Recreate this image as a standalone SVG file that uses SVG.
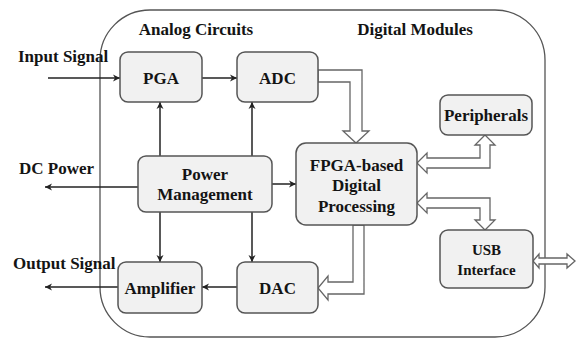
<svg xmlns="http://www.w3.org/2000/svg" width="576" height="338" viewBox="0 0 576 338">
<defs>
<marker id="ah" markerWidth="8" markerHeight="8" refX="7" refY="4" orient="auto" markerUnits="userSpaceOnUse">
<path d="M0,0.5 L7,4 L0,7.5 L2,4 Z" fill="#222"/>
</marker>
<style>
.box{fill:#f1f1f1;stroke:#555;stroke-width:1.5}
.t{font-family:"Liberation Serif","Times New Roman",serif;font-weight:bold;font-size:17px;fill:#141414;text-anchor:middle}
.ts{font-size:15px}
.lbl{font-family:"Liberation Serif","Times New Roman",serif;font-weight:bold;font-size:17px;fill:#141414}
.c{stroke:#222;stroke-width:1.5;fill:none;marker-end:url(#ah)}
.ba{fill:#fff;stroke:#666;stroke-width:1.3;stroke-linejoin:miter}
</style>
</defs>
<rect width="576" height="338" fill="#fff"/>
<g id="container">
<rect x="100" y="10" width="445" height="327" rx="50" ry="50" fill="none" stroke="#555" stroke-width="1.3"/>
<text class="lbl" x="196" y="35" text-anchor="middle">Analog Circuits</text>
<text class="lbl" x="415" y="35" text-anchor="middle">Digital Modules</text>
</g>
<g id="labels">
<text class="lbl" x="18" y="62">Input Signal</text>
<text class="lbl" x="19" y="174">DC Power</text>
<text class="lbl" x="13" y="269">Output Signal</text>
</g>
<g id="connectors">
<line class="c" x1="48" y1="78" x2="120" y2="78"/>
<line class="c" x1="202" y1="78" x2="237" y2="78"/>
<line class="c" x1="160" y1="156" x2="160" y2="102"/>
<line class="c" x1="252" y1="156" x2="252" y2="102"/>
<line class="c" x1="138" y1="187" x2="45" y2="187"/>
<line class="c" x1="272" y1="184" x2="296" y2="184"/>
<line class="c" x1="160" y1="212" x2="160" y2="262"/>
<line class="c" x1="252" y1="212" x2="252" y2="262"/>
<line class="c" x1="237" y1="287" x2="202" y2="287"/>
<line class="c" x1="118" y1="287" x2="45" y2="287"/>
<polygon class="ba" points="318,70 362,70 362,131 369,131 356,143 343,131 350,131 350,82 318,82"/>
<polygon class="ba" points="417,163 427,153 427,158 480,158 480,145 475,145 485,135 495,145 490,145 490,168 427,168 427,173"/>
<polygon class="ba" points="417,203 427,193 427,198 490,198 490,220 495,220 485,230 475,220 480,220 480,208 427,208 427,213"/>
<polygon class="ba" points="353,225 364,225 364,294 328,294 328,300 318,288 328,276 328,282 353,282"/>
<polygon class="ba" points="533,261 539,254 539,258 567,258 567,254 575,261 567,268 567,264 539,264 539,268"/>
</g>
<g id="pga">
<rect class="box" x="120" y="52" width="82" height="50" rx="8"/>
<text class="t" x="161" y="84">PGA</text>
</g>
<g id="adc">
<rect class="box" x="237" y="52" width="81" height="50" rx="8"/>
<text class="t" x="277.5" y="84">ADC</text>
</g>
<g id="peripherals">
<rect class="box" x="440" y="95" width="92" height="40" rx="8"/>
<text class="t" x="486" y="121">Peripherals</text>
</g>
<g id="power">
<rect class="box" x="138" y="156" width="134" height="56" rx="8"/>
<text class="t" x="205" y="180">Power</text>
<text class="t" x="205" y="200">Management</text>
</g>
<g id="fpga">
<rect class="box" x="296" y="143" width="121" height="82" rx="10"/>
<text class="t" x="356.5" y="171">FPGA-based</text>
<text class="t" x="356.5" y="191">Digital</text>
<text class="t" x="356.5" y="212">Processing</text>
</g>
<g id="usb">
<rect class="box" x="440" y="230" width="93" height="58" rx="8"/>
<text class="t ts" x="486.5" y="255">USB</text>
<text class="t ts" x="486.5" y="275">Interface</text>
</g>
<g id="amplifier">
<rect class="box" x="118" y="262" width="84" height="51" rx="8"/>
<text class="t" x="160" y="294">Amplifier</text>
</g>
<g id="dac">
<rect class="box" x="237" y="262" width="81" height="51" rx="8"/>
<text class="t" x="277.5" y="294">DAC</text>
</g>
</svg>
